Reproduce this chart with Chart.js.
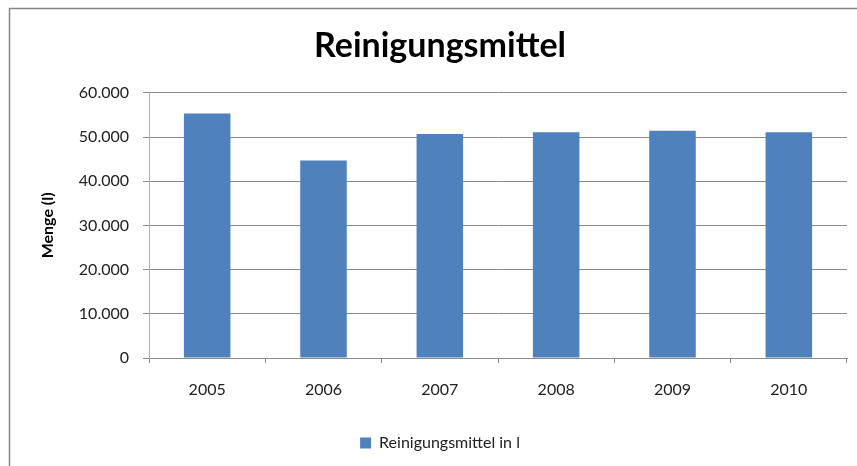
<!DOCTYPE html>
<html lang="de">
<head>
    <meta charset="UTF-8">
    <title>Reinigungsmittel</title>
    <script src="https://cdn.jsdelivr.net/npm/chart.js"></script>
    <style>
        html, body { margin: 0; padding: 0; background: #fff; overflow: hidden; }
        #wrap { width: 880px; height: 466px; position: relative; }
    </style>
</head>
<body>
<div id="wrap"><canvas id="chart"></canvas></div>
<script>
    // Daten
    const jahre = ['2005', '2006', '2007', '2008', '2009', '2010'];
    const menge = [55300, 44700, 50700, 51100, 51400, 51100];
    const yTicks = [0, 10000, 20000, 30000, 40000, 50000, 60000];

    const grau = '#8a8a8a';
    const schrift = 'Lato, "Open Sans", sans-serif';

    function formatDE(v) {
        return String(v).replace(/\B(?=(\d{3})+(?!\d))/g, '.');
    }

    // Rahmen oben und links wie im Original
    const rahmen = {
        id: 'rahmen',
        beforeDraw(chart) {
            const c = chart.ctx;
            c.save();
            c.strokeStyle = '#878787';
            c.lineWidth = 1.5;
            c.beginPath();
            c.moveTo(9.5, 466);
            c.lineTo(9.5, 8.5);
            c.lineTo(880, 8.5);
            c.stroke();
            c.restore();
        }
    };

    new Chart(document.getElementById('chart'), {
        type: 'bar',
        data: {
            labels: jahre,
            datasets: [{
                label: 'Reinigungsmittel in l',
                data: menge,
                backgroundColor: '#4f81bd',
                borderColor: '#4f81bd',
                borderWidth: 0,
                categoryPercentage: 1,
                barPercentage: 0.4
            }]
        },
        options: {
            responsive: true,
            maintainAspectRatio: false,
            animation: false,
            layout: { padding: { left: 9, top: 8, right: 9, bottom: 5 } },
            plugins: {
                title: {
                    display: true,
                    text: 'Reinigungsmittel',
                    color: '#000',
                    font: { family: schrift, size: 34, weight: 'bold' },
                    padding: { top: 18, bottom: 26 }
                },
                legend: {
                    position: 'bottom',
                    labels: {
                        color: '#222',
                        font: { family: schrift, size: 16 },
                        boxWidth: 11,
                        boxHeight: 11,
                        padding: 10
                    }
                },
                tooltip: { enabled: false }
            },
            scales: {
                x: {
                    grid: {
                        display: true,
                        drawOnChartArea: false,
                        drawTicks: true,
                        tickLength: 5,
                        color: grau,
                        offset: true
                    },
                    border: { color: grau, width: 1 },
                    ticks: {
                        color: '#222',
                        font: { family: schrift, size: 16 },
                        padding: 17
                    },
                    afterFit(scale) { scale.height = 67; }
                },
                y: {
                    min: 0,
                    max: 60000,
                    afterBuildTicks(scale) {
                        scale.ticks = yTicks.map(v => ({ value: v }));
                    },
                    grid: {
                        color: grau,
                        drawTicks: true,
                        tickLength: 6
                    },
                    border: { color: '#b0b0b0', width: 1 },
                    ticks: {
                        color: '#222',
                        font: { family: schrift, size: 16 },
                        padding: 14,
                        callback: v => formatDE(v)
                    },
                    title: {
                        display: true,
                        text: 'Menge (l)',
                        color: '#000',
                        font: { family: schrift, size: 16, weight: 'bold' },
                        padding: { top: 29, bottom: 0 }
                    },
                    afterFit(scale) { scale.width = 140; }
                },
                // leere Achse rechts, damit Titel und Legende mittig über dem Rahmen liegen
                rechts: {
                    type: 'linear',
                    position: 'right',
                    grid: { drawOnChartArea: false, drawTicks: false },
                    border: { display: false },
                    ticks: { display: false },
                    afterFit(scale) { scale.width = 24; }
                }
            }
        },
        plugins: [rahmen]
    });
</script>
</body>
</html>
